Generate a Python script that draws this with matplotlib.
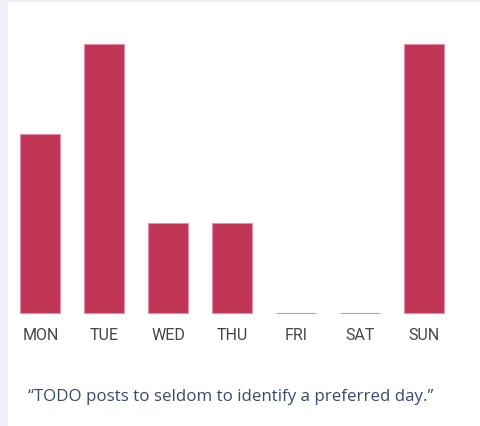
import numpy as np
import matplotlib.pyplot as plt
from matplotlib.patches import Rectangle

# data
days = ['MON', 'TUE', 'WED', 'THU', 'FRI', 'SAT', 'SUN']
posts = [2, 3, 1, 1, 0, 0, 3]
caption = '\u201cTODO posts to seldom to identify a preferred day.\u201d'

W, H = 481, 426
fig = plt.figure(figsize=(W / 100, H / 100), dpi=100)
fig.patch.set_facecolor('#edf1f5')
# white card behind the chart
fig.patches.append(Rectangle((8 / W, 0), 1 - 8 / W, (H - 2) / H,
                             transform=fig.transFigure, facecolor='white',
                             edgecolor='none', zorder=-5))

ax = fig.add_axes([8.5 / W, 113 / H, 448 / W, 269 / H])
ax.set_facecolor('none')
ax.set_zorder(2)
x = np.arange(len(days))
ax.bar(x, posts, width=0.625, color='#c13557', edgecolor='#e58ea6',
       linewidth=0.8, clip_on=False)
ax.set_xlim(-0.5, 6.5)
ax.set_ylim(0, 3)
ax.set_yticks([])
ax.set_xticks(x)
ax.set_xticklabels(days, fontfamily='Roboto', fontsize=11.5, color='#454545')
ax.tick_params(axis='x', length=0, pad=11)
for s in ax.spines.values():
    s.set_visible(False)

fig.text(28 / W, 1 - 397 / H, caption, fontfamily='Open Sans', fontsize=12.2,
         color='#3b4a6b', va='center', ha='left', zorder=3)

fig.savefig('out.png', dpi=100, facecolor=fig.get_facecolor())
